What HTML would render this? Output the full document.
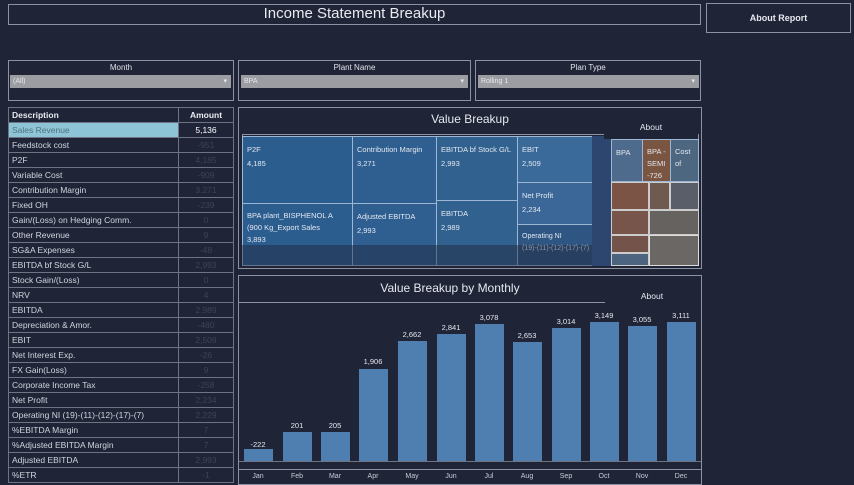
<!DOCTYPE html>
<html><head><meta charset="utf-8"><style>
*{margin:0;padding:0;box-sizing:border-box}
body{width:854px;height:480px;background:#1f2437;font-family:"Liberation Sans","DejaVu Sans",sans-serif;position:relative;overflow:hidden;color:#e6e8ee}
.a{position:absolute}
.box{position:absolute;border:1px solid #8d92a3}
.dd{position:absolute;background:#9b9da3;color:#e8e8e8;font-size:7px;padding:3px 3px;height:13px}
.dd:after{content:"▾";position:absolute;right:4px;top:2px;font-size:7px}
.lbl{position:absolute;font-size:8px;text-align:center;color:#e0e2e8}
table{border-collapse:collapse;position:absolute;left:8px;top:107px;width:226px;font-size:8.5px}
tr{height:15px}
td{border:1px solid #6f7485;height:15px;line-height:13px;padding:0 3px;color:#d2d5dd;white-space:nowrap}
td.v{text-align:center;color:#3e4458;width:55px}
.c{position:absolute;border:1px solid #9db6d4;color:#e3e8f0;font-size:7.5px;padding:6px 4px;line-height:14px;white-space:nowrap;overflow:hidden}
.bar{position:absolute;background:#4e7fb0;width:29px}
.bl{position:absolute;font-size:7.5px;color:#e8e8ee;width:40px;text-align:center}
.ml{position:absolute;top:473px;font-size:7px;color:#c8ccd6;width:30px;text-align:center}
</style></head><body>
<div class="box" style="left:8px;top:4px;width:693px;height:21px"></div>
<div class="a" style="left:8px;top:5px;width:693px;text-align:center;font-size:15px;color:#e8eaf0">Income Statement Breakup</div>
<div class="box" style="left:706px;top:3px;width:145px;height:30px"></div>
<div class="a" style="left:706px;top:13px;width:145px;text-align:center;font-size:9px;font-weight:bold">About Report</div>

<div class="box" style="left:8px;top:60px;width:226px;height:41px"></div>
<div class="lbl" style="left:8px;top:63px;width:226px">Month</div>
<div class="dd" style="left:10px;top:75px;width:221px">(All)</div>
<div class="box" style="left:238px;top:60px;width:233px;height:41px"></div>
<div class="lbl" style="left:238px;top:63px;width:233px">Plant Name</div>
<div class="dd" style="left:241px;top:75px;width:227px">BPA</div>
<div class="box" style="left:475px;top:60px;width:226px;height:41px"></div>
<div class="lbl" style="left:475px;top:63px;width:226px">Plan Type</div>
<div class="dd" style="left:478px;top:75px;width:221px">Rolling 1</div>

<table>
<tr><td style="font-weight:bold;color:#e8eaf0">Description</td><td class="v" style="font-weight:bold;color:#e8eaf0">Amount</td></tr>
<tr><td style="background:#8ec5d6;color:#4d7380">Sales Revenue</td><td class="v" style="color:#fff">5,136</td></tr>
<tr><td>Feedstock cost</td><td class="v">-951</td></tr>
<tr><td>P2F</td><td class="v">4,185</td></tr>
<tr><td>Variable Cost</td><td class="v">-909</td></tr>
<tr><td>Contribution Margin</td><td class="v">3,271</td></tr>
<tr><td>Fixed OH</td><td class="v">-239</td></tr>
<tr><td>Gain/(Loss) on Hedging Comm.</td><td class="v">0</td></tr>
<tr><td>Other Revenue</td><td class="v">9</td></tr>
<tr><td>SG&amp;A Expenses</td><td class="v">-48</td></tr>
<tr><td>EBITDA bf Stock G/L</td><td class="v">2,993</td></tr>
<tr><td>Stock Gain/(Loss)</td><td class="v">0</td></tr>
<tr><td>NRV</td><td class="v">4</td></tr>
<tr><td>EBITDA</td><td class="v">2,989</td></tr>
<tr><td>Depreciation &amp; Amor.</td><td class="v">-480</td></tr>
<tr><td>EBIT</td><td class="v">2,509</td></tr>
<tr><td>Net Interest  Exp.</td><td class="v">-26</td></tr>
<tr><td>FX Gain(Loss)</td><td class="v">9</td></tr>
<tr><td>Corporate Income Tax</td><td class="v">-258</td></tr>
<tr><td>Net Profit</td><td class="v">2,234</td></tr>
<tr><td>Operating NI (19)-(11)-(12)-(17)-(7)</td><td class="v">2,229</td></tr>
<tr><td>%EBITDA Margin</td><td class="v">7</td></tr>
<tr><td>%Adjusted EBITDA Margin</td><td class="v">7</td></tr>
<tr><td>Adjusted EBITDA</td><td class="v">2,993</td></tr>
<tr><td>%ETR</td><td class="v">-1</td></tr>
</table>

<div class="box" style="left:238px;top:107px;width:464px;height:162px"></div>
<div class="a" style="left:238px;top:112px;width:464px;text-align:center;font-size:12px">Value Breakup</div>
<div class="a" style="left:242px;top:134px;width:457px;height:132px;border:1px solid #8d92a3"></div>
<div class="c" style="left:242px;top:136px;width:111px;height:68px;background:#2c5d8f">P2F<br>4,185</div>
<div class="c" style="left:352px;top:136px;width:85px;height:68px;background:#2f5f90">Contribution Margin<br>3,271</div>
<div class="c" style="left:436px;top:136px;width:82px;height:65px;background:#31618f">EBITDA bf Stock G/L<br>2,993</div>
<div class="c" style="left:517px;top:136px;width:76px;height:47px;background:#3a6a99">EBIT<br>2,509</div>
<div class="c" style="left:517px;top:182px;width:76px;height:43px;background:#3a6797">Net Profit<br>2,234</div>
<div class="c" style="left:517px;top:224px;width:76px;height:42px;background:#2f5683;line-height:12px;font-size:7px">Operating NI<br>(19)-(11)-(12)-(17)-(7)</div>
<div class="c" style="left:242px;top:203px;width:111px;height:63px;background:#2c5d8f;line-height:12px">BPA plant_BISPHENOL A<br>(900 Kg_Export Sales<br>3,893</div>
<div class="c" style="left:352px;top:203px;width:85px;height:63px;background:#2f5f90">Adjusted EBITDA<br>2,993</div>
<div class="c" style="left:436px;top:200px;width:82px;height:66px;background:#31618f">EBITDA<br>2,989</div>
<div class="a" style="left:242px;top:245px;width:351px;height:21px;background:rgba(31,36,55,0.45)"></div>
<div class="a" style="left:592px;top:136px;width:20px;height:130px;background:#2c4670"></div>
<div class="c" style="left:611px;top:139px;width:32px;height:43px;background:#4e6a8c">BPA</div>
<div class="c" style="left:642px;top:139px;width:29px;height:43px;background:#7a5541;line-height:12px">BPA -<br>SEMI<br>-726</div>
<div class="c" style="left:670px;top:139px;width:29px;height:43px;background:#4d6781;line-height:12px">Cost<br>of</div>
<div class="a" style="left:611px;top:182px;width:38px;height:28px;background:#7b5445;border:1px solid #ccc"></div>
<div class="a" style="left:649px;top:182px;width:21px;height:28px;background:#6f5a4f;border:1px solid #ccc"></div>
<div class="a" style="left:670px;top:182px;width:29px;height:28px;background:#5a5e68;border:1px solid #ccc"></div>
<div class="a" style="left:611px;top:210px;width:38px;height:25px;background:#77554a;border:1px solid #ccc"></div>
<div class="a" style="left:649px;top:210px;width:50px;height:25px;background:#66625f;border:1px solid #ccc"></div>
<div class="a" style="left:611px;top:235px;width:38px;height:18px;background:#74534a;border:1px solid #ccc"></div>
<div class="a" style="left:649px;top:235px;width:50px;height:31px;background:#6b6765;border:1px solid #ddd"></div>
<div class="a" style="left:611px;top:253px;width:38px;height:13px;background:#4d6480;border:1px solid #ccc"></div>
<div class="a" style="left:604px;top:118px;width:94px;height:21px;background:#1f2437"></div>
<div class="a" style="left:604px;top:122px;width:94px;text-align:center;font-size:8.5px">About</div>

<div class="box" style="left:238px;top:275px;width:464px;height:210px"></div>
<div class="a" style="left:238px;top:281px;width:464px;text-align:center;font-size:12px;padding-right:40px">Value Breakup by Monthly</div>
<div class="a" style="left:239px;top:302px;width:366px;height:1px;background:#8d92a3"></div>
<div class="a" style="left:604px;top:291px;width:96px;text-align:center;font-size:8.5px">About</div>
<div class="a" style="left:239px;top:461px;width:462px;height:1px;background:#6f7485"></div>
<div class="a" style="left:239px;top:469px;width:462px;height:1px;background:#8d92a3"></div>

<div class="bar" style="left:244px;top:449px;height:12px"></div><div class="bl" style="left:238px;top:440px">-222</div>
<div class="bar" style="left:283px;top:432px;height:29px"></div><div class="bl" style="left:277px;top:421px">201</div>
<div class="bar" style="left:321px;top:432px;height:29px"></div><div class="bl" style="left:315px;top:421px">205</div>
<div class="bar" style="left:359px;top:369px;height:92px"></div><div class="bl" style="left:353px;top:357px">1,906</div>
<div class="bar" style="left:398px;top:341px;height:120px"></div><div class="bl" style="left:392px;top:330px">2,662</div>
<div class="bar" style="left:437px;top:334px;height:127px"></div><div class="bl" style="left:431px;top:323px">2,841</div>
<div class="bar" style="left:475px;top:324px;height:137px"></div><div class="bl" style="left:469px;top:313px">3,078</div>
<div class="bar" style="left:513px;top:342px;height:119px"></div><div class="bl" style="left:507px;top:331px">2,653</div>
<div class="bar" style="left:552px;top:328px;height:133px"></div><div class="bl" style="left:546px;top:317px">3,014</div>
<div class="bar" style="left:590px;top:322px;height:139px"></div><div class="bl" style="left:584px;top:311px">3,149</div>
<div class="bar" style="left:628px;top:326px;height:135px"></div><div class="bl" style="left:622px;top:315px">3,055</div>
<div class="bar" style="left:667px;top:322px;height:139px"></div><div class="bl" style="left:661px;top:311px">3,111</div>

<div class="ml" style="left:243px">Jan</div><div class="ml" style="left:282px">Feb</div><div class="ml" style="left:320px">Mar</div>
<div class="ml" style="left:358px">Apr</div><div class="ml" style="left:397px">May</div><div class="ml" style="left:436px">Jun</div>
<div class="ml" style="left:474px">Jul</div><div class="ml" style="left:512px">Aug</div><div class="ml" style="left:551px">Sep</div>
<div class="ml" style="left:589px">Oct</div><div class="ml" style="left:627px">Nov</div><div class="ml" style="left:666px">Dec</div>
</body></html>
